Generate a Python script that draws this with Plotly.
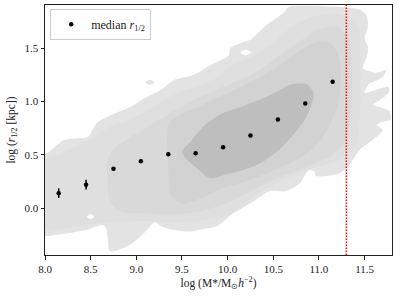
import plotly.graph_objects as go

# ---- data ----
median_x = [8.15, 8.45, 8.75, 9.05, 9.35, 9.65, 9.95, 10.25, 10.55, 10.85, 11.15]
median_y = [0.14, 0.22, 0.37, 0.44, 0.505, 0.515, 0.57, 0.68, 0.83, 0.98, 1.185]
median_err = [0.045, 0.045, 0.01, 0.01, 0.01, 0.01, 0.01, 0.01, 0.01, 0.01, 0.01]

mass_limit = [11.3]

x_ticks = [8.0, 8.5, 9.0, 9.5, 10.0, 10.5, 11.0, 11.5]
y_ticks = [0.0, 0.5, 1.0, 1.5]

# density contour levels (outline in data coordinates)
level1_x = [7.95, 8.03, 8.21, 8.47, 8.57, 8.72, 8.94, 9.09, 9.27, 9.41, 9.63, 9.81, 10.01, 10.03, 10.18,
            10.25, 10.43, 10.61, 10.68, 11.15, 11.45, 11.52, 11.54, 11.50, 11.54, 11.52, 11.48, 11.63,
            11.74, 11.70, 11.54, 11.50, 11.63, 11.76, 11.77, 11.66, 11.59, 11.70, 11.77, 11.79, 11.70,
            11.63, 11.70, 11.59, 11.45, 11.32, 11.23, 11.08, 10.97, 10.95, 10.90, 10.86, 10.79, 10.64,
            10.46, 10.28, 10.06, 9.88, 9.70, 9.60, 9.38, 9.27, 9.21, 9.16, 9.09, 8.94, 8.74, 8.70, 8.69,
            8.67, 8.63, 8.47, 8.21, 7.95]
level1_y = [0.50, 0.52, 0.64, 0.67, 0.80, 0.87, 0.95, 1.03, 1.11, 1.20, 1.25, 1.34, 1.43, 1.50, 1.56,
            1.58, 1.72, 1.83, 1.89, 1.89, 1.86, 1.81, 1.72, 1.59, 1.50, 1.41, 1.31, 1.27,
            1.30, 1.23, 1.16, 1.08, 1.11, 1.14, 1.09, 1.01, 0.97, 0.94, 0.91, 0.83, 0.81,
            0.78, 0.73, 0.64, 0.55, 0.39, 0.33, 0.30, 0.30, 0.34, 0.36, 0.33, 0.23, 0.16,
            0.16, 0.06, -0.05, -0.17, -0.20, -0.22, -0.20, -0.17, -0.13, -0.16, -0.23, -0.34, -0.41, -0.39, -0.30,
            -0.19, -0.16, -0.20, -0.24, -0.25]

level2_x = [7.95, 8.2, 8.54, 8.73, 8.94, 9.19, 9.45, 9.67, 9.89, 10.03, 10.25, 10.5, 10.7, 10.95, 11.2,
            11.42, 11.45, 11.45, 11.4, 11.2, 10.9, 10.6, 10.3, 10.0, 9.7, 9.4, 9.1, 8.7, 8.4, 7.95]
level2_y = [0.42, 0.52, 0.67, 0.77, 0.83, 0.95, 1.08, 1.14, 1.23, 1.33, 1.41, 1.55, 1.70, 1.80, 1.82,
            1.72, 1.40, 0.90, 0.58, 0.44, 0.37, 0.26, 0.12, -0.07, -0.12, -0.13, -0.12, -0.13, -0.16, -0.18]

level3_x = [8.70, 8.85, 9.1, 9.35, 9.6, 9.85, 10.05, 10.3, 10.55, 10.8, 11.0, 11.2, 11.32, 11.36, 11.35,
            11.3, 11.15, 10.9, 10.6, 10.3, 10.0, 9.7, 9.4, 9.1, 8.85, 8.72, 8.68]
level3_y = [0.50, 0.62, 0.75, 0.88, 1.00, 1.10, 1.17, 1.27, 1.42, 1.57, 1.68, 1.70, 1.60, 1.30, 0.90,
            0.65, 0.50, 0.40, 0.30, 0.18, 0.05, -0.03, -0.06, -0.05, -0.04, 0.05, 0.30]

level4_x = [9.36, 9.5, 9.7, 9.95, 10.2, 10.5, 10.75, 10.95, 11.12, 11.22, 11.24, 11.2, 11.1, 10.95,
            10.75, 10.5, 10.2, 9.95, 9.7, 9.5, 9.38, 9.35]
level4_y = [0.80, 0.88, 0.96, 1.06, 1.16, 1.30, 1.45, 1.55, 1.55, 1.42, 1.20, 0.95, 0.75, 0.57,
            0.45, 0.35, 0.25, 0.19, 0.09, 0.04, 0.12, 0.40]

level5_x = [9.50, 9.60, 9.74, 9.92, 10.18, 10.47, 10.69, 10.87, 10.94, 10.92, 10.83, 10.69, 10.54,
            10.36, 10.18, 9.96, 9.81, 9.67, 9.56]
level5_y = [0.53, 0.63, 0.77, 0.88, 0.96, 1.06, 1.16, 1.16, 1.08, 0.97, 0.81, 0.66, 0.53,
            0.42, 0.36, 0.31, 0.28, 0.37, 0.45]

island_x = [9.10, 9.15, 9.20, 9.15]
island_y = [1.18, 1.205, 1.18, 1.155]
hole1_x = [10.14, 10.20, 10.26, 10.20]
hole1_y = [1.46, 1.485, 1.46, 1.435]
hole2_x = [8.46, 8.50, 8.54, 8.50]
hole2_y = [-0.08, -0.055, -0.08, -0.105]

level_colors = ["#e3e3e3", "#dfdfdf", "#d9d9d9", "#d2d2d2", "#bebebe"]

fig = go.Figure()

def poly(xs, ys, color, smooth=0.8):
    fig.add_trace(go.Scatter(
        x=xs + xs[:1], y=ys + ys[:1], mode="lines", fill="toself",
        fillcolor=color, line=dict(width=0, color=color, shape="spline", smoothing=smooth),
        hoverinfo="skip", showlegend=False))

poly(level1_x, level1_y, level_colors[0], 0.6)
poly(island_x, island_y, level_colors[0])
poly(hole1_x, hole1_y, "white")
poly(level2_x, level2_y, level_colors[1])
poly(level3_x, level3_y, level_colors[2])
poly(level4_x, level4_y, level_colors[3])
poly(level5_x, level5_y, level_colors[4])
poly(hole2_x, hole2_y, "white")

fig.add_trace(go.Scatter(
    x=[mass_limit[0], mass_limit[0]], y=[-0.44, 1.905], mode="lines",
    line=dict(color="red", width=1.5, dash="1.5px,1.5px"), showlegend=False, hoverinfo="skip"))

fig.add_trace(go.Scatter(
    x=median_x, y=median_y, mode="markers",
    marker=dict(color="black", size=4.5),
    error_y=dict(type="data", array=median_err, color="black", thickness=1.5, width=0),
    name="median <i>r</i><sub>1/2</sub>"))

font = dict(family="Liberation Serif", size=11, color="#222")
axis_common = dict(showline=True, linecolor="#222", linewidth=1, mirror=True, ticks="outside",
                   ticklen=3.5, tickwidth=0.8, tickcolor="#222", showgrid=False, zeroline=False,
                   automargin=False,
                   tickfont=dict(family="Liberation Serif", size=11, color="#222"))

fig.update_layout(
    width=399, height=298,
    margin=dict(l=45, r=7, t=5, b=43),
    plot_bgcolor="white", paper_bgcolor="white",
    font=font,
    xaxis=dict(range=[8.0, 11.8], tickvals=x_ticks, ticktext=[f"{v:.1f}" for v in x_ticks],
               title=dict(text="log (M*/M<sub>⊙</sub><i>h</i><sup>−2</sup>)", standoff=4,
                          font=dict(family="Liberation Serif", size=11.5)),
               **axis_common),
    yaxis=dict(range=[-0.44, 1.905], tickvals=y_ticks, ticktext=[f"{v:.1f}" for v in y_ticks],
               title=dict(text="log (<i>r</i><sub>1/2</sub> [kpc])", standoff=6,
                          font=dict(family="Liberation Serif", size=11.5)),
               **axis_common),
    legend=dict(x=0.015, y=0.985, xanchor="left", yanchor="top", bgcolor="rgba(255,255,255,0.85)",
                bordercolor="#cccccc", borderwidth=1, itemwidth=30,
                font=dict(family="Liberation Serif", size=12)),
    showlegend=True,
)

fig.write_html("out.html", config={"displayModeBar": False},
               post_script="document.body.style.margin='0px';document.body.style.overflow='hidden';")
